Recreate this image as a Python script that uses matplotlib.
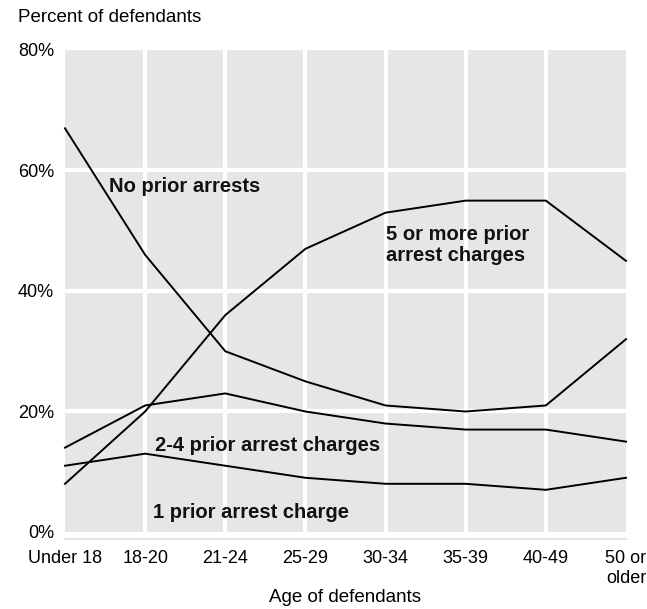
import matplotlib.pyplot as plt

ages = ["Under 18", "18-20", "21-24", "25-29", "30-34", "35-39", "40-49", "50 or\nolder"]
no_prior = [67, 46, 30, 25, 21, 20, 21, 32]
five_plus = [8, 20, 36, 47, 53, 55, 55, 45]
two_four = [14, 21, 23, 20, 18, 17, 17, 15]
one_prior = [11, 13, 11, 9, 8, 8, 7, 9]

plt.rcParams['font.family'] = ['Liberation Sans', 'DejaVu Sans']

fig = plt.figure(figsize=(6.47, 6.09), dpi=100)
ax = fig.add_axes([65 / 647, 77 / 609, 561 / 647, 482 / 609])
ax.set_facecolor('#e6e6e6')

x = list(range(len(ages)))
for s in [no_prior, five_plus, two_four, one_prior]:
    ax.plot(x, s, color='black', lw=1.4, zorder=3, clip_on=False)

for xi in x[1:-1]:
    ax.axvline(xi, color='white', lw=3, zorder=1)
for yv in [20, 40, 60]:
    ax.axhline(yv, color='white', lw=3, zorder=1)

ax.set_xlim(0, 7)
ax.set_ylim(0, 80)
ax.set_xticks(x)
ax.set_xticklabels(ages, linespacing=1.4)
ax.set_yticks([0, 20, 40, 60, 80])
ax.set_yticklabels(["0%", "20%", "40%", "60%", "80%"])
ax.tick_params(axis='x', length=0, pad=8, labelsize=13)
ax.tick_params(axis='y', length=0, pad=8, labelsize=13)
for side in ['top', 'right', 'left']:
    ax.spines[side].set_visible(False)
ax.spines['bottom'].set_position(('outward', 5))
ax.spines['bottom'].set_color('#dddddd')
ax.spines['bottom'].set_linewidth(1.2)

lab = dict(fontsize=14.5, fontweight='bold', color='#111111', zorder=4)
ax.text(0.55, 57.4, "No prior arrests", ha='left', va='center', **lab)
ax.text(4.0, 47.6, "5 or more prior\narrest charges", ha='left', va='center', linespacing=1.15, **lab)
ax.text(1.12, 14.4, "2-4 prior arrest charges", ha='left', va='center', **lab)
ax.text(1.1, 3.2, "1 prior arrest charge", ha='left', va='center', **lab)

fig.text(18 / 647, 1 - 18 / 609, "Percent of defendants", fontsize=13.5, ha='left', va='center')
fig.text(345 / 647, 1 - 598 / 609, "Age of defendants", fontsize=13.5, ha='center', va='center')

fig.savefig('out.png', dpi=100)
